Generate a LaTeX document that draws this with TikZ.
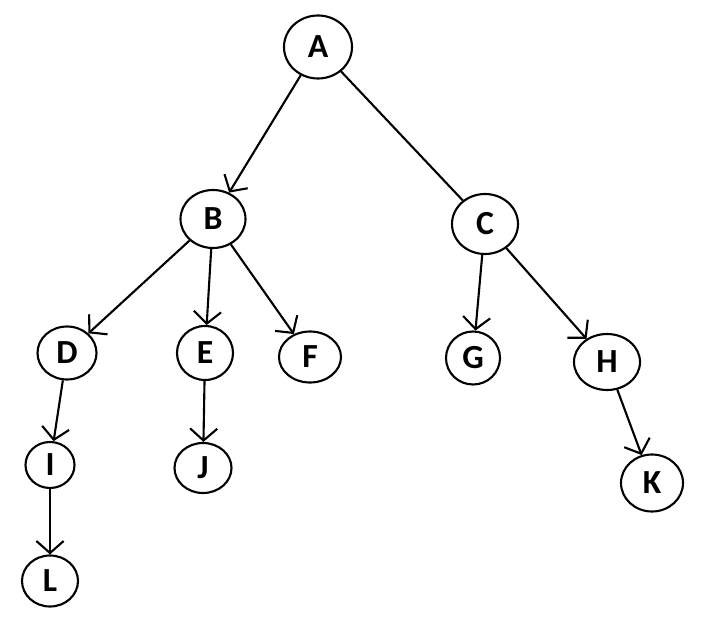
\documentclass[tikz,border=0pt]{standalone}
\usepackage{fontspec}
\setmainfont{Carlito}
\usepackage{tikz}
\usetikzlibrary{shapes.geometric, arrows.meta}
\tikzset{
  vertex/.style={ellipse, draw=black, line width=1.5pt, inner sep=0pt,
    font=\fontsize{24}{24}\selectfont\bfseries},
  plainedge/.style={line width=1.5pt, draw=black},
  treearrow/.style={plainedge, -{Straight Barb[length=3mm, width=6.8mm, line width=1.5pt]}}
}
\begin{document}
\begin{tikzpicture}[x=0.025cm, y=-0.025cm]

  \useasboundingbox (0,0) rectangle (701,628);

  % root and second level
  \node[vertex, minimum width=1.7cm,   minimum height=1.575cm] (A) at (318,47)  {A};
  \node[vertex, minimum width=1.625cm, minimum height=1.45cm]  (B) at (213,219) {B};
  \node[vertex, minimum width=1.65cm,  minimum height=1.5cm]   (C) at (485,224) {C};

  % third level
  \node[vertex, minimum width=1.475cm, minimum height=1.325cm] (D) at (67,353)  {D};
  \node[vertex, minimum width=1.4cm,   minimum height=1.35cm]  (E) at (205,353) {E};
  \node[vertex, minimum width=1.55cm,  minimum height=1.275cm] (F) at (310,357) {F};
  \node[vertex, minimum width=1.35cm,  minimum height=1.325cm] (G) at (473,358) {G};
  \node[vertex, minimum width=1.65cm,  minimum height=1.4cm]   (H) at (607,362) {H};

  % fourth and fifth level
  \node[vertex, minimum width=1.225cm, minimum height=1.15cm]  (I) at (50,465)  {I};
  \node[vertex, minimum width=1.425cm, minimum height=1.25cm]  (J) at (203,468) {J};
  \node[vertex, minimum width=1.55cm,  minimum height=1.425cm] (K) at (652,483) {K};
  \node[vertex, minimum width=1.4cm,   minimum height=1.275cm] (L) at (50,581)  {L};

  % edges
  \draw[treearrow] (A) -- (B);
  \draw[plainedge] (A) -- (C);
  \draw[treearrow] (B) -- (D);
  \draw[treearrow] (B) -- (E);
  \draw[treearrow] (B) -- (F);
  \draw[treearrow] (C) -- (G);
  \draw[treearrow] (C) -- (H);
  \draw[treearrow] (D) -- (I);
  \draw[treearrow] (E) -- (J);
  \draw[treearrow] (H) -- (K);
  \draw[treearrow] (I) -- (L);

\end{tikzpicture}
\end{document}
